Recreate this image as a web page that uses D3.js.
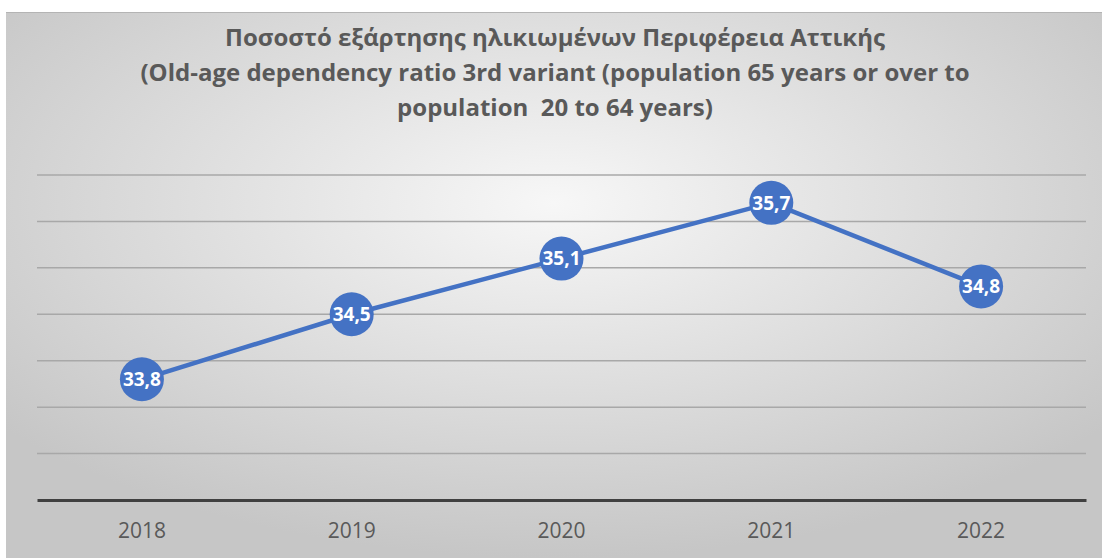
<!DOCTYPE html>
<html>
<head>
<meta charset="utf-8">
<script src="https://cdn.jsdelivr.net/npm/d3@7"></script>
<style>
  body { margin: 0; background: #fff; }
  svg { display: block; }
</style>
</head>
<body>
<svg id="chart"></svg>
<script>
const years = ["2018", "2019", "2020", "2021", "2022"];
const ratio = [33.8, 34.5, 35.1, 35.7, 34.8];
const yTicks = [32.5, 33, 33.5, 34, 34.5, 35, 35.5, 36];
const titleLines = [
    "Ποσοστό εξάρτησης ηλικιωμένων Περιφέρεια Αττικής",
    "(Old-age dependency ratio 3rd variant (population 65 years or over to",
    "population  20 to 64 years)"
];

const width = 1102;
const height = 558;
const margin = { top: 175, right: 16, bottom: 58, left: 37 };

const svg = d3.select("#chart").attr("width", width).attr("height", height);

// background
const defs = svg.append("defs");
const grad = defs.append("radialGradient")
    .attr("id", "bg")
    .attr("cx", "50%").attr("cy", "35%").attr("r", "65%");
grad.append("stop").attr("offset", "0%").attr("stop-color", "#f7f7f7");
grad.append("stop").attr("offset", "100%").attr("stop-color", "#c6c6c6");

svg.append("rect")
    .attr("x", 6).attr("y", 12)
    .attr("width", width - 6).attr("height", height - 12)
    .attr("fill", "url(#bg)");
svg.append("line")
    .attr("x1", 6).attr("x2", width)
    .attr("y1", 12.5).attr("y2", 12.5)
    .attr("stroke", "#b4b4b4").attr("stroke-width", 1);

const x = d3.scaleBand()
    .domain(years)
    .range([margin.left, width - margin.right]);

const y = d3.scaleLinear()
    .domain([32.5, 36])
    .range([height - margin.bottom, margin.top]);

// gridlines
svg.append("g")
    .selectAll("line")
    .data(yTicks.slice(1))
    .join("line")
    .attr("x1", margin.left).attr("x2", width - margin.right)
    .attr("y1", d => y(d)).attr("y2", d => y(d))
    .attr("stroke", "#a8a8a8")
    .attr("stroke-width", 1.5);

// X axis
const xAxis = svg.append("g")
    .attr("transform", `translate(0,${y(32.5)})`)
    .call(d3.axisBottom(x).tickSize(0).tickPadding(23));
xAxis.select(".domain").attr("stroke", "#404040").attr("stroke-width", 3);
xAxis.selectAll("text")
    .attr("fill", "#595959")
    .style("font-family", "Open Sans, sans-serif")
    .style("font-size", "21px");

// title
svg.append("g")
    .selectAll("text")
    .data(titleLines)
    .join("text")
    .attr("x", width / 2 + 4)
    .attr("y", (d, i) => 46 + i * 35)
    .attr("text-anchor", "middle")
    .attr("fill", "#595959")
    .style("white-space", "pre")
    .style("font-family", "Open Sans, sans-serif")
    .style("font-weight", "bold")
    .style("font-size", "24px")
    .text(d => d);

const data = years.map((d, i) => ({ year: d, value: ratio[i] }));
const cx = d => x(d.year) + x.bandwidth() / 2;

// line
svg.append("path")
    .datum(data)
    .attr("fill", "none")
    .attr("stroke", "#4472c4")
    .attr("stroke-width", 4.5)
    .attr("d", d3.line().x(cx).y(d => y(d.value)));

// markers
svg.append("g")
    .selectAll("circle")
    .data(data)
    .join("circle")
    .attr("cx", cx)
    .attr("cy", d => y(d.value))
    .attr("r", 22)
    .attr("fill", "#4472c4");

// labels
svg.append("g")
    .selectAll("text")
    .data(data)
    .join("text")
    .attr("x", cx)
    .attr("y", d => y(d.value))
    .attr("dy", "0.35em")
    .attr("text-anchor", "middle")
    .attr("fill", "#fff")
    .style("font-family", "Open Sans, sans-serif")
    .style("font-weight", "bold")
    .style("font-size", "19px")
    .text(d => d.value.toFixed(1).replace(".", ","));
</script>
</body>
</html>
